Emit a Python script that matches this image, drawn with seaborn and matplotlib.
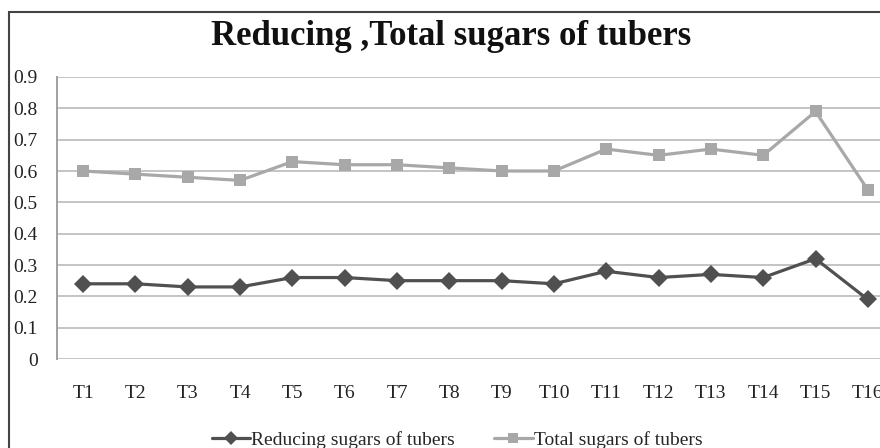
import pandas as pd
import matplotlib
matplotlib.use('Agg')
import matplotlib.pyplot as plt
import seaborn as sns
from matplotlib.patches import Rectangle

# data
treatments = ['T1', 'T2', 'T3', 'T4', 'T5', 'T6', 'T7', 'T8',
              'T9', 'T10', 'T11', 'T12', 'T13', 'T14', 'T15', 'T16']
reducing = [0.24, 0.24, 0.23, 0.23, 0.26, 0.26, 0.25, 0.25,
            0.25, 0.24, 0.28, 0.26, 0.27, 0.26, 0.32, 0.19]
total = [0.60, 0.59, 0.58, 0.57, 0.63, 0.62, 0.62, 0.61,
         0.60, 0.60, 0.67, 0.65, 0.67, 0.65, 0.79, 0.54]
series_names = ['Reducing sugars of tubers', 'Total sugars of tubers']
yticks = [0, 0.1, 0.2, 0.3, 0.4, 0.5, 0.6, 0.7, 0.8, 0.9]

df = pd.DataFrame({
    'treatment': treatments * 2,
    'value': reducing + total,
    'series': [series_names[0]] * len(treatments) + [series_names[1]] * len(treatments),
})

sns.set_style('white')
plt.rcParams['font.family'] = ['Liberation Serif', 'DejaVu Serif']

fig = plt.figure(figsize=(8.8, 4.48), dpi=100)
ax = fig.add_axes([57 / 880, 89 / 448, 837 / 880, 282 / 448])

palette = {series_names[0]: '#505050', series_names[1]: '#a8a8a8'}
markers = {series_names[0]: 'D', series_names[1]: 's'}

sns.lineplot(data=df, x='treatment', y='value', hue='series', style='series',
             palette=palette, markers=markers, dashes=False, sort=False,
             linewidth=2.3, markersize=9, markeredgewidth=0, ax=ax, zorder=3)

ax.set_xlim(-0.5, len(treatments) - 0.5)
ax.set_ylim(0, 0.9)
ax.set_yticks(yticks)
ax.set_yticklabels(['0'] + [f'{t:.1f}' for t in yticks[1:]])
ax.yaxis.grid(True, color='#c4c4c4', linewidth=1.4)
ax.xaxis.grid(False)
ax.tick_params(axis='both', length=0, labelsize=14, colors='#222222')
ax.tick_params(axis='x', pad=19)
ax.tick_params(axis='y', pad=14)
for side in ['top', 'right', 'bottom']:
    ax.spines[side].set_visible(False)
ax.spines['left'].set_color('#a0a0a0')
ax.spines['left'].set_linewidth(1.4)
ax.set_xlabel('')
ax.set_ylabel('')

fig.text(451 / 880, 1 - 45 / 448, 'Reducing ,Total sugars of tubers',
         ha='center', va='baseline', fontsize=25, fontweight='bold', color='#111111')

handles, labels = ax.get_legend_handles_labels()
for h in handles:
    h.set_markersize(7)
ax.legend(handles, labels, loc='center', bbox_to_anchor=(457 / 880, 1 - 440 / 448),
          bbox_transform=fig.transFigure, ncol=2, frameon=False, fontsize=14,
          handlelength=2.0, handletextpad=0.05, columnspacing=2.0)

# outer chart frame (cropped at right and bottom)
fig.add_artist(Rectangle((9 / 880, -0.1), 1.2, 1 - 12 / 448 + 0.1,
                         transform=fig.transFigure, fill=False,
                         edgecolor='#444444', linewidth=1.5))

fig.savefig('out.png', dpi=100)
